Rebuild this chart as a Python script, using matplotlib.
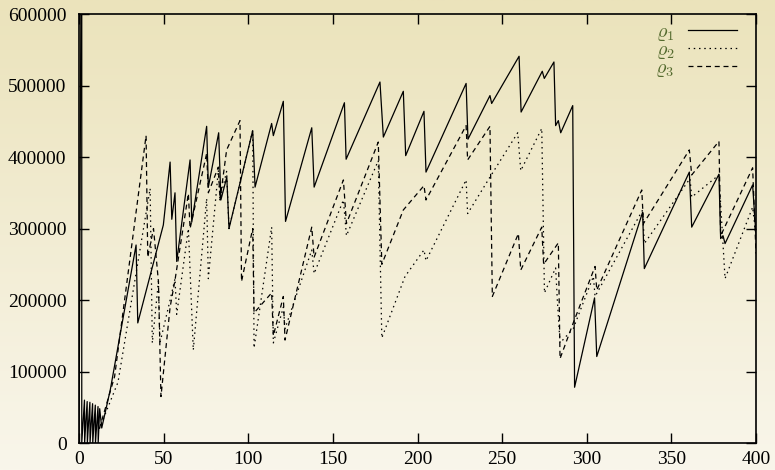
import numpy as np
import matplotlib
matplotlib.use("Agg")
import matplotlib.pyplot as plt

# rho_1 (solid) - break points
x_rho1 = [0, 1.6, 1.6, 2.4, 3.2, 3.3, 4.0, 4.8, 4.9, 5.6, 6.4, 6.5, 7.2, 8.0, 8.1, 8.8, 9.6, 9.7,
          10.4, 11.2, 11.3, 12.2, 13.4, 18.5, 33.7, 34.7, 49.8, 53.8, 54.8, 56.7, 57.7, 65.6, 66.6,
          75.4, 76.4, 82.5, 83.8, 87.3, 88.6, 102.6, 104.0, 113.8, 114.8, 120.7, 122.0, 137.5,
          138.9, 156.8, 157.8, 177.8, 179.8, 191.6, 193.0, 203.8, 205.0, 228.7, 229.8, 242.8,
          243.8, 260.0, 261.2, 273.7, 274.9, 280.6, 281.6, 283.2, 284.6, 291.7, 292.8, 304.6,
          305.9, 333.0, 334.0, 360.6, 362.0, 378.1, 379.1, 380.5, 381.7, 398.0, 400.0]
y_rho1 = [0, 900000, 0, 30000, 60000, 0, 30000, 58000, 0, 28000, 57000, 0, 27000, 55000, 0,
          26000, 53000, 0, 25000, 51000, 0, 48000, 21000, 75000, 277000, 168000, 305000, 393000,
          313000, 350000, 254000, 396000, 309000, 443000, 358000, 434000, 340000, 372000, 300000,
          437000, 358000, 447000, 430000, 478000, 310000, 441000, 358000, 476000, 397000, 505000,
          428000, 492000, 402000, 464000, 379000, 503000, 425000, 486000, 475000, 541000, 463000,
          520000, 510000, 533000, 444000, 451000, 434000, 472000, 78000, 203000, 121000, 323000,
          244000, 379000, 302000, 376000, 286000, 290000, 279000, 361000, 290000]

# rho_2 (dotted)
x_rho2 = [12, 23, 42.0, 43.3, 46.9, 47.8, 53.8, 56.7, 57.7, 64.6, 67.5, 75.4, 76.4, 82.3, 83.3,
          87.2, 88.6, 102.6, 103.4, 113.8, 114.8, 120.7, 121.7, 137.5, 138.9, 156.2, 158.0,
          176.8, 178.9, 192.6, 203.8, 205.0, 228.7, 229.6, 242.8, 259.2, 261.0, 273.4, 275.0,
          281.6, 282.6, 284.2, 292.0, 303.9, 304.9, 333.0, 334.0, 361.0, 362.0, 378.1, 381.7,
          398.0, 400.0]
y_rho2 = [20000, 85000, 356000, 140000, 226000, 140000, 200000, 230000, 180000, 300000, 130000,
          342000, 230000, 382000, 340000, 380000, 300000, 437000, 133000, 302000, 140000, 190000,
          160000, 270000, 237000, 340000, 290000, 395000, 147000, 233000, 270000, 255000, 368000,
          321000, 372000, 434000, 381000, 440000, 210000, 245000, 200000, 140000, 160000, 233000,
          205000, 326000, 279000, 370000, 344000, 375000, 230000, 330000, 290000]

# rho_3 (dashed)
x_rho3 = [12, 21, 39.6, 40.6, 44.0, 46.9, 48.4, 53.8, 56.7, 64.6, 65.6, 75.4, 76.4, 82.3, 83.3,
          87.2, 95.1, 96.0, 102.6, 103.4, 113.8, 114.8, 120.7, 121.7, 137.5, 138.9, 156.2, 158.0,
          176.8, 178.9, 191.6, 203.8, 205.0, 228.7, 229.6, 242.8, 244.2, 259.6, 261.0, 273.4,
          274.5, 283.2, 284.2, 292.0, 304.9, 305.9, 332.5, 333.5, 360.6, 362.0, 378.1, 379.1,
          398.0, 400.0]
y_rho3 = [20000, 93000, 430000, 260000, 300000, 226000, 65000, 190000, 228000, 349000, 300000,
          405000, 350000, 386000, 340000, 410000, 451000, 226000, 300000, 182000, 210000, 150000,
          205000, 144000, 302000, 260000, 368000, 307000, 421000, 250000, 326000, 360000, 340000,
          444000, 396000, 443000, 205000, 293000, 242000, 302000, 250000, 280000, 118000, 168000,
          247000, 214000, 354000, 307000, 410000, 375000, 422000, 290000, 385000, 265000]

x_ticks = [0, 50, 100, 150, 200, 250, 300, 350, 400]
y_ticks = [0, 100000, 200000, 300000, 400000, 500000, 600000]

plt.rcParams['font.family'] = ['Liberation Serif', 'DejaVu Serif']
plt.rcParams['mathtext.fontset'] = 'cm'

fig = plt.figure(figsize=(7.75, 4.7), dpi=100)

# beige gradient background behind everything
bg = fig.add_axes([0, 0, 1, 1])
top = np.array([235, 227, 187]) / 255.0
bot = np.array([249, 246, 235]) / 255.0
t = np.linspace(0, 1, 256)[:, None]
grad = top[None, :] * (1 - t) + bot[None, :] * t
bg.imshow(grad[:, None, :], aspect='auto', extent=[0, 1, 0, 1])
bg.axis('off')

ax = fig.add_axes([0.102, 0.0574, 0.8735, 0.9126])
ax.patch.set_alpha(0)

lw = 0.9
ax.plot(x_rho1, y_rho1, color='black', lw=lw, ls='-', label=r'$\varrho_1$')
ax.plot(x_rho2, y_rho2, color='black', lw=lw, ls=(0, (1.2, 3.0)), label=r'$\varrho_2$')
ax.plot(x_rho3, y_rho3, color='black', lw=lw, ls=(0, (4, 3)), label=r'$\varrho_3$')

ax.set_xlim(0, 400)
ax.set_ylim(0, 600000)
ax.set_xticks(x_ticks)
ax.set_yticks(y_ticks)
ax.set_xticklabels([str(v) for v in x_ticks])
ax.set_yticklabels([str(v) for v in y_ticks])
ax.tick_params(direction='in', length=7, width=1, top=True, right=True, labelsize=14)
ax.tick_params(axis='y', pad=9)
ax.tick_params(axis='x', pad=6)
for s in ax.spines.values():
    s.set_linewidth(1.2)

leg = ax.legend(loc='upper right', frameon=False, markerfirst=False, handlelength=2.4,
                fontsize=14.5, labelspacing=-0.12, handletextpad=0.7,
                borderaxespad=0.2, borderpad=0.25, labelcolor='#556b2f',
                bbox_to_anchor=(0.985, 1.0))

fig.savefig('out.png', dpi=100)
